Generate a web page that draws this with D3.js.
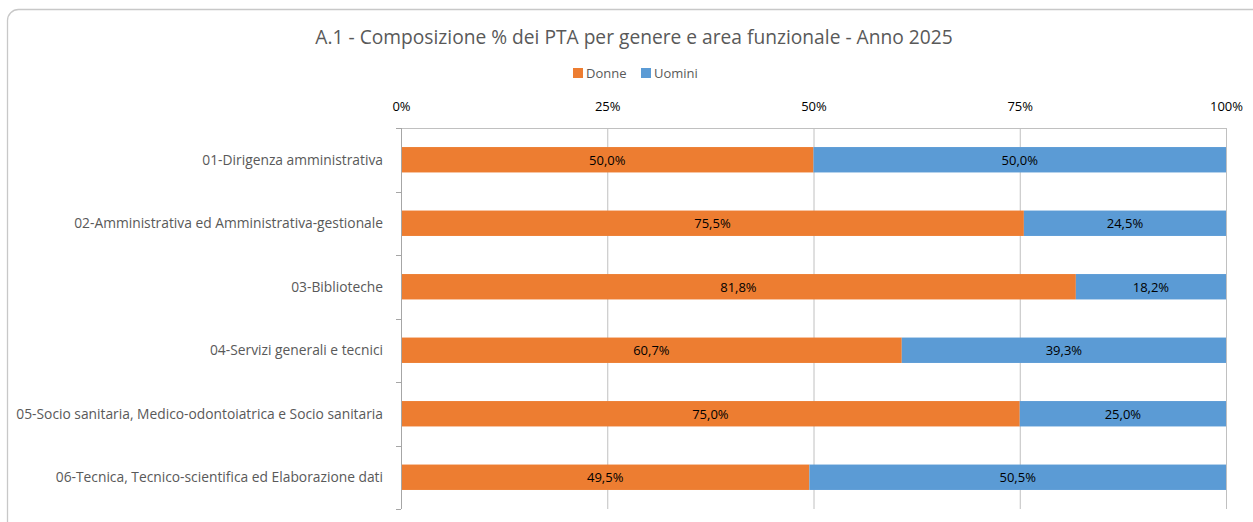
<html>
<head>
  <script src="https://cdnjs.cloudflare.com/ajax/libs/d3/7.8.5/d3.min.js"></script>
  <style>
    body { margin: 0; background: #fff; }
    text { font-family: "Open Sans", "Noto Sans", sans-serif; }
  </style>
</head>
<body>
  <div id="chart"></div>
  <script>

    var categories = [
      "01-Dirigenza amministrativa",
      "02-Amministrativa ed Amministrativa-gestionale",
      "03-Biblioteche",
      "04-Servizi generali e tecnici",
      "05-Socio sanitaria, Medico-odontoiatrica e Socio sanitaria",
      "06-Tecnica, Tecnico-scientifica ed Elaborazione dati"
    ];
    var donne = [50.0, 75.5, 81.8, 60.7, 75.0, 49.5];
    var uomini = [50.0, 24.5, 18.2, 39.3, 25.0, 50.5];
    var seriesNames = ["Donne", "Uomini"];
    var tickValues = [0, 25, 50, 75, 100];

    var W = 1253, H = 522;
    var colors = { Donne: "#ED7D31", Uomini: "#5B9BD5" };

    var svg = d3.select("#chart").append("svg")
      .attr("width", W)
      .attr("height", H);

    // chart frame
    svg.append("rect")
      .attr("x", 7.5).attr("y", 9.5)
      .attr("width", 1262).attr("height", 530)
      .attr("rx", 11).attr("ry", 11)
      .attr("fill", "#fff")
      .attr("stroke", "#c8c8c8")
      .attr("stroke-width", 1.3);

    svg.append("text")
      .attr("x", 634).attr("y", 44)
      .attr("text-anchor", "middle")
      .attr("fill", "#595959")
      .style("font-size", "19.2px")
      .text("A.1 - Composizione % dei PTA per genere e area funzionale - Anno 2025");

    // legend
    var legend = svg.append("g").attr("transform", "translate(573,68)");
    var lx = 0;
    seriesNames.forEach(function(name) {
      legend.append("rect").attr("x", lx).attr("y", 0).attr("width", 10).attr("height", 10)
        .attr("fill", colors[name]);
      legend.append("text").attr("x", lx + 13).attr("y", 10)
        .attr("fill", "#595959").style("font-size", "13px").text(name);
      lx += 68;
    });

    var x = d3.scaleLinear().domain([0, 100]).range([401, 1226]);
    var y = d3.scaleBand().domain(categories).range([128, 509])
      .paddingInner(0.6).paddingOuter(0.3);

    // gridlines
    svg.append("g").selectAll("line")
      .data(tickValues.slice(1))
      .enter().append("line")
      .attr("x1", function(d) { return x(d) + 0.5; })
      .attr("x2", function(d) { return x(d) + 0.5; })
      .attr("y1", 128).attr("y2", 509)
      .attr("stroke", "#c0c0c0").attr("stroke-width", 1);

    // top value axis
    var xAxis = d3.axisTop(x).tickValues(tickValues)
      .tickSize(0).tickPadding(18)
      .tickFormat(function(d) { return d + "%"; });
    var gx = svg.append("g").attr("transform", "translate(0,128.5)").call(xAxis);
    gx.select(".domain").remove();
    gx.selectAll("text").attr("fill", "#000").style("font-size", "13px")
      .style("font-family", "'Open Sans', sans-serif");
    svg.append("line").attr("x1", 396).attr("x2", 1226).attr("y1", 128.5).attr("y2", 128.5)
      .attr("stroke", "#c0c0c0");

    // bars
    var rows = categories.map(function(c, i) {
      return { cat: c, Donne: donne[i], Uomini: uomini[i] };
    });
    var stacked = d3.stack().keys(seriesNames)(rows);

    var layers = svg.append("g").selectAll("g")
      .data(stacked).enter().append("g")
      .attr("fill", function(d) { return colors[d.key]; });

    layers.selectAll("rect")
      .data(function(d) { return d; })
      .enter().append("rect")
      .attr("x", function(d) { return x(d[0]); })
      .attr("width", function(d) { return x(d[1]) - x(d[0]); })
      .attr("y", function(d) { return y(d.data.cat); })
      .attr("height", y.bandwidth());

    layers.selectAll("text")
      .data(function(d) { return d; })
      .enter().append("text")
      .attr("x", function(d) { return (x(d[0]) + x(d[1])) / 2; })
      .attr("y", function(d) { return y(d.data.cat) + y.bandwidth() / 2 + 5; })
      .attr("text-anchor", "middle")
      .attr("fill", "#000")
      .style("font-size", "13px")
      .text(function(d) { return d3.format(".1f")(d[1] - d[0]).replace(".", ",") + "%"; });

    // category axis
    var step = y.step();
    var boundaries = d3.range(categories.length + 1).map(function(i) { return 128 + i * step; });
    svg.append("line").attr("x1", 401.5).attr("x2", 401.5).attr("y1", 128).attr("y2", 509)
      .attr("stroke", "#a6a6a6");
    svg.append("g").selectAll("line").data(boundaries).enter().append("line")
      .attr("x1", 396).attr("x2", 401)
      .attr("y1", function(d) { return Math.round(d) + 0.5; })
      .attr("y2", function(d) { return Math.round(d) + 0.5; })
      .attr("stroke", "#a6a6a6");

    svg.append("g").selectAll("text").data(categories).enter().append("text")
      .attr("x", 383)
      .attr("y", function(d) { return y(d) + y.bandwidth() / 2 + 5; })
      .attr("text-anchor", "end")
      .attr("fill", "#595959")
      .style("font-size", "13.8px")
      .text(function(d) { return d; });

  </script>
</body>
</html>
